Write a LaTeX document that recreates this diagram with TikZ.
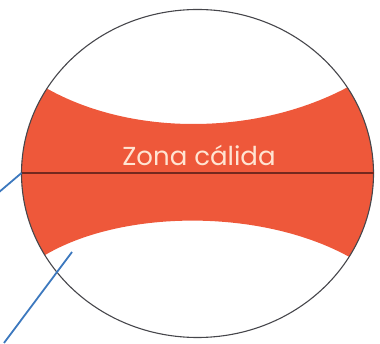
\documentclass[tikz,border=0pt]{standalone}
\usepackage{fontspec}
\usepackage{tikz}
\usetikzlibrary{positioning}
\newfontfamily\zonafont{Poppins}
\definecolor{calida}{RGB}{238,88,58}
\definecolor{rotulo}{RGB}{255,228,210}
\definecolor{ecuador}{RGB}{115,40,30}
\definecolor{guia}{RGB}{60,120,190}
\definecolor{borde}{RGB}{70,70,75}

\begin{document}
\begin{tikzpicture}[x=1pt,y=-1pt,
  tierra/.style={draw=borde,line width=1.1pt},
  zona/.style={fill=calida},
  linea/.style={draw=ecuador,line width=1.2pt},
  guialine/.style={draw=guia,line width=1.8pt},
  rotulobox/.style={text=rotulo,font=\zonafont\fontsize{26}{26}\selectfont,inner sep=0pt},
]
\useasboundingbox (0,0) rectangle (380,344);
\coordinate (centro) at (197.5,173.5);

% zona calida, recortada por el globo
\begin{scope}
  \clip (centro) ellipse [x radius=176,y radius=164];
  \fill[zona] (30,78) .. controls (120,140) and (270,140) .. (370,74)
    -- (400,74) -- (400,272) -- (370,270)
    .. controls (280,205) and (110,205) .. (30,265)
    -- (0,265) -- (0,78) -- cycle;
\end{scope}

\draw[tierra] (centro) ellipse [x radius=176,y radius=164];
\coordinate (ecW) at (21.5,173);
\coordinate (ecE) at (373.5,173);
\draw[linea] (ecW) -- (ecE);

\node[rotulobox] (rotulo) at (199,155) {Zona cálida};

% lineas de rotulos (cortadas)
\coordinate (g1a) at (-2,193);
\coordinate (g2a) at (4,343);
\coordinate (g2b) at (72,252);
\draw[guialine] (g1a) -- (ecW);
\draw[guialine] (g2a) -- (g2b);
\end{tikzpicture}
\end{document}
